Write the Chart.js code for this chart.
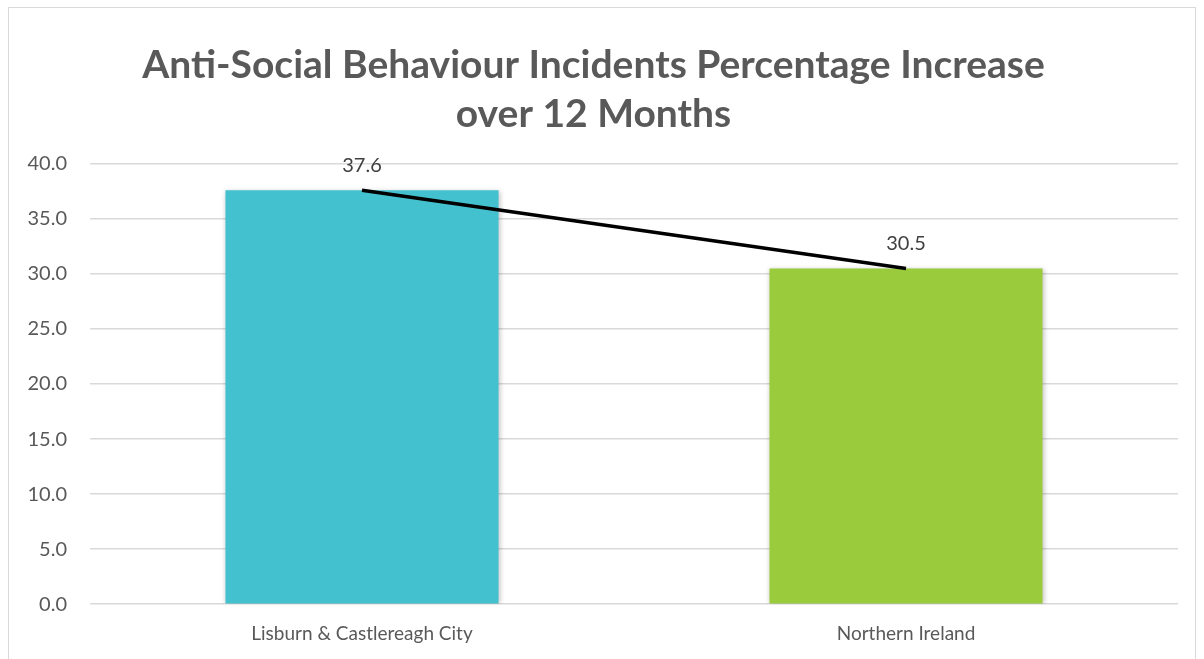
<!DOCTYPE html>
<html>
<head>
<meta charset="utf-8">
<script src="https://cdn.jsdelivr.net/npm/chart.js@4.4.1/dist/chart.umd.min.js"></script>
<style>
  html, body { margin: 0; padding: 0; background: #fff; }
  #box {
    position: absolute; left: 8px; top: 7px; width: 1188px; height: 660px;
    border: 1px solid #d9d9d9; box-sizing: border-box; background: #fff;
  }
  #chart { display: block; }
</style>
</head>
<body>
<div id="box"><canvas id="chart" width="1186" height="658"></canvas></div>
<script>
var categories = ['Lisburn & Castlereagh City', 'Northern Ireland'];
var increaseValues = [37.6, 30.5];
var barColors = ['#44C1CE', '#9ACB3C'];
var titleLines = ['Anti-Social Behaviour Incidents Percentage Increase', 'over 12 Months'];

Chart.defaults.font.family = 'Lato, "Open Sans", sans-serif';

// labels above the line points
var lineLabels = {
  id: 'lineLabels',
  afterDatasetsDraw: function (chart) {
    var meta = chart.getDatasetMeta(1);
    var ctx = chart.ctx;
    ctx.save();
    ctx.font = '20px Lato, sans-serif';
    ctx.fillStyle = '#404040';
    ctx.textAlign = 'center';
    ctx.textBaseline = 'middle';
    meta.data.forEach(function (pt, i) {
      ctx.fillText(increaseValues[i].toFixed(1), pt.x, pt.y - 25);
    });
    ctx.restore();
  }
};

// soft shadow on the bars
var barShadow = {
  id: 'barShadow',
  beforeDatasetDraw: function (chart, args) {
    if (args.index !== 0) return;
    var ctx = chart.ctx;
    ctx.save();
    ctx.shadowColor = 'rgba(0,0,0,0.25)';
    ctx.shadowBlur = 5;
    ctx.shadowOffsetX = 1;
    ctx.shadowOffsetY = 1;
  },
  afterDatasetDraw: function (chart, args) {
    if (args.index !== 0) return;
    chart.ctx.restore();
  }
};

new Chart(document.getElementById('chart'), {
  data: {
    labels: categories,
    datasets: [
      {
        type: 'bar',
        data: increaseValues,
        backgroundColor: barColors,
        categoryPercentage: 1,
        barPercentage: 0.502,
        order: 2
      },
      {
        type: 'line',
        data: increaseValues,
        borderColor: '#000',
        borderWidth: 3.5,
        pointRadius: 0,
        fill: false,
        order: 1
      }
    ]
  },
  options: {
    responsive: false,
    animation: false,
    layout: { padding: { left: 0, right: 17, top: 0, bottom: 11 } },
    plugins: {
      legend: { display: false },
      tooltip: { enabled: false },
      title: {
        display: true,
        text: titleLines,
        color: '#595959',
        font: { size: 39, weight: 'bold', lineHeight: 1.28 },
        padding: { top: 32, bottom: 24 }
      }
    },
    scales: {
      x: {
        grid: { display: false },
        border: { display: false },
        ticks: { color: '#595959', font: { size: 19 }, padding: 10 }
      },
      y: {
        min: 0,
        max: 40,
        ticks: {
          stepSize: 5,
          color: '#595959',
          font: { size: 20 },
          padding: 23,
          callback: function (v) { return v.toFixed(1); }
        },
        grid: { color: '#d9d9d9', lineWidth: 1.5, drawTicks: false },
        border: { display: false },
        afterFit: function (scale) { scale.width = 81; }
      }
    }
  },
  plugins: [barShadow, lineLabels]
});
</script>
</body>
</html>
